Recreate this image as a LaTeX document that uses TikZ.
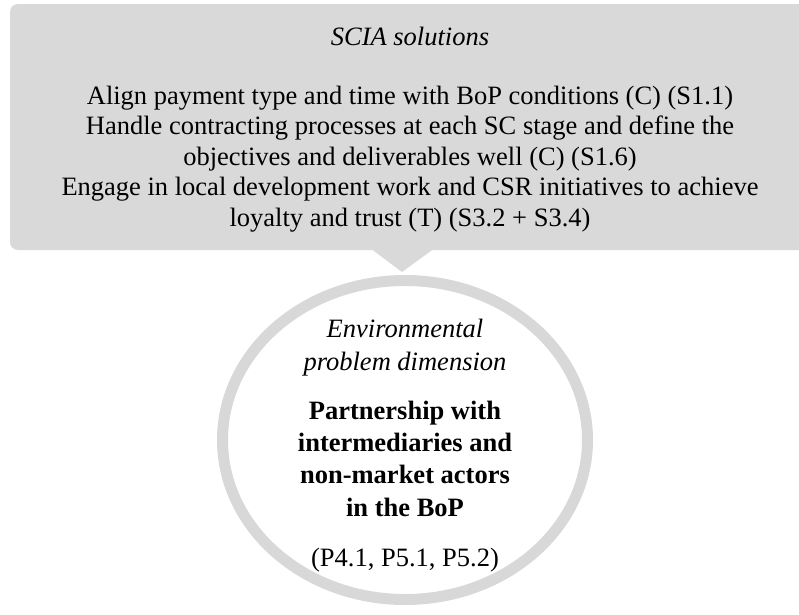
\documentclass[tikz,border=0pt]{standalone}
\usepackage{fontspec}
\setmainfont{Liberation Serif}
\usetikzlibrary{shapes.geometric}
\definecolor{panelgray}{RGB}{217,217,217}
\definecolor{ringgray}{RGB}{216,216,216}
\begin{document}
\begin{tikzpicture}[x=1pt,y=-1pt,
  panel/.style={fill=panelgray,rounded corners=8pt,inner sep=0pt,
    minimum width=800pt,minimum height=246pt},
  ring/.style={ellipse,draw=ringgray,line width=11pt,inner sep=0pt,
    minimum width=365pt,minimum height=319pt},
  boxtext/.style={align=center,inner sep=0pt,
    font=\fontsize{26.5}{30.5}\selectfont},
  ringtext/.style={align=center,inner sep=0pt,
    font=\fontsize{26.5}{32.3}\selectfont}]
\useasboundingbox (0,0) rectangle (799,614);
\clip (0,0) rectangle (799,614);
% solutions panel with its pointer
\node[panel] (sol) at (410,127) {};
\fill[panelgray] (370,248) -- (402,272) -- (435,248) -- cycle;
% multi-line nodes sit on the baseline of their last line
\node[boxtext,anchor=base] (soltitle) at (410,45) {\itshape SCIA solutions};
\node[boxtext,anchor=base] (solbody) at (410,226) {Align payment type and time with BoP conditions (C) (S1.1)\\
Handle contracting processes at each SC stage and define the\\
objectives and deliverables well (C) (S1.6)\\
Engage in local development work and CSR initiatives to achieve\\
loyalty and trust (T) (S3.2 + S3.4)};
% problem dimension
\node[ring] (dim) at (405,440) {};
\node[ringtext,anchor=base] (dimtitle) at (405,370) {\itshape Environmental\\\itshape problem dimension};
\node[ringtext,anchor=base] (dimname) at (405,516) {\bfseries Partnership with\\\bfseries intermediaries and\\\bfseries non-market actors\\\bfseries in the BoP};
\node[ringtext,anchor=base] (dimref) at (405,566) {(P4.1, P5.1, P5.2)};
\end{tikzpicture}
\end{document}
